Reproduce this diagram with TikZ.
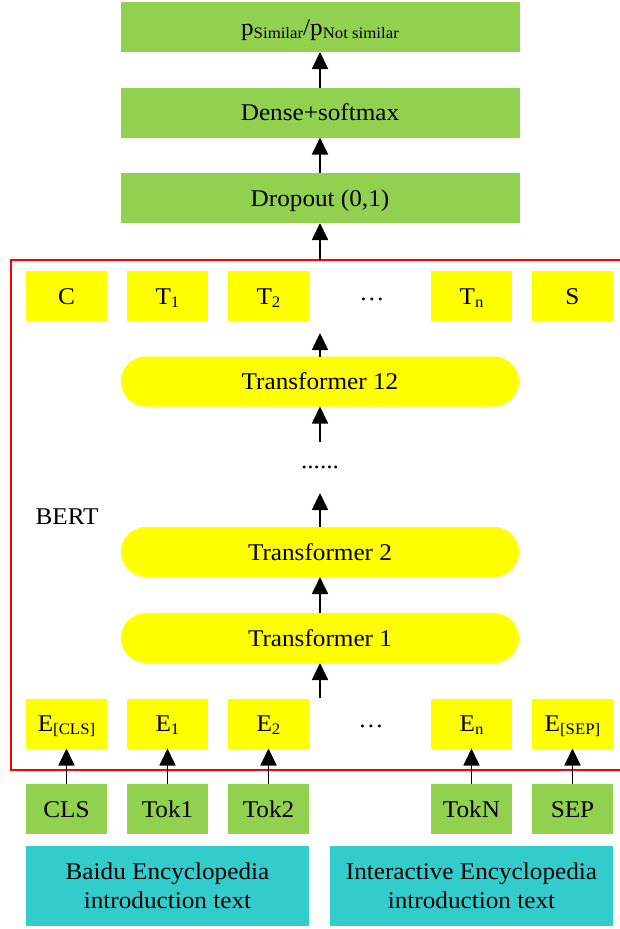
\documentclass[tikz,border=0pt]{standalone}
\usepackage{fontspec}
\setmainfont{Liberation Serif}[FakeStretch=1.05]
\usetikzlibrary{arrows.meta}
\definecolor{boxgreen}{HTML}{92D050}
\definecolor{boxyellow}{HTML}{FFFF00}
\definecolor{boxcyan}{HTML}{33CCCC}
\definecolor{framered}{HTML}{FF0000}
% lowered, smaller index text
\newcommand\lowsub[1]{\raisebox{-0.3ex}{\fontsize{16}{16}\selectfont #1}}

\begin{document}
\begin{tikzpicture}[x=1pt,y=-1pt,
  every node/.style={font=\fontsize{24}{29}\selectfont, inner sep=0pt, outer sep=0pt},
  oneline/.style={text height=17pt, text depth=1pt},
  headbox/.style={oneline, fill=boxgreen, minimum width=399pt, minimum height=50pt},
  cell/.style={oneline, fill=boxyellow, minimum width=81pt, minimum height=50pt},
  tokcell/.style={oneline, fill=boxgreen, minimum width=81pt, minimum height=50pt},
  layer/.style={oneline, fill=boxyellow, rounded corners=25pt, minimum width=398pt, minimum height=50pt},
  textbox/.style={fill=boxcyan, minimum width=283pt, minimum height=80pt, align=center},
  flow/.style={line width=1.8pt, -{Triangle[length=17pt,width=16pt]}},
]
\useasboundingbox (0,0) rectangle (619,929);

% BERT frame
\draw[framered, line width=2pt] (10.5,259.5) rectangle (640,769.5);
\node[oneline] (bert) at (67,516) {BERT};

% classification head
\node[headbox] (prob)  at (320,27)  {p\lowsub{Similar}/p\lowsub{Not similar}};
\node[headbox] (dense) at (320,112.5) {Dense+softmax};
\node[headbox] (drop)  at (320,198) {Dropout (0,1)};

% output vectors
\node[cell] (oc)  at (66.5,296)  {C};
\node[cell] (ot1) at (167.5,296) {T\lowsub{1}};
\node[cell] (ot2) at (268.5,296) {T\lowsub{2}};
\node[oneline] (odots) at (372,292) {…};
\node[cell] (otn) at (471.5,296) {T\lowsub{n}};
\node[cell] (os)  at (572.5,296) {S};

% transformer stack
\node[layer] (tr12) at (320,381.5) {Transformer 12};
\node[oneline] (trdots) at (320,460) {......};
\node[layer] (tr2)  at (320,552)   {Transformer 2};
\node[layer] (tr1)  at (320,638)   {Transformer 1};

% input embeddings
\node[cell] (ecls) at (66.5,723.5)  {E\lowsub{[CLS]}};
\node[cell] (e1)   at (167.5,723.5) {E\lowsub{1}};
\node[cell] (e2)   at (268.5,723.5) {E\lowsub{2}};
\node[oneline] (edots) at (371,719) {…};
\node[cell] (en)   at (471.5,723.5) {E\lowsub{n}};
\node[cell] (esep) at (572.5,723.5) {E\lowsub{[SEP]}};

% tokens
\node[tokcell] (kcls) at (66.5,809)  {CLS};
\node[tokcell] (k1)   at (167.5,809) {Tok1};
\node[tokcell] (k2)   at (268.5,809) {Tok2};
\node[tokcell] (kn)   at (471.5,809) {TokN};
\node[tokcell] (ksep) at (572.5,809) {SEP};

% source texts
\node[textbox] (baidu) at (167.5,886) {Baidu Encyclopedia\\introduction text};
\node[textbox] (hudong) at (471.5,886) {Interactive Encyclopedia\\introduction text};

% free arrow ends
\coordinate (frametop) at (320,259.5);
\coordinate (outtip)   at (320,333);
\coordinate (midbase)  at (320,442);
\coordinate (midtip)   at (320,493);
\coordinate (embtop)   at (320,698);

% arrows
\draw[flow] (dense.north) -- (prob.south);
\draw[flow] (drop.north) -- (dense.south);
\draw[flow] (frametop) -- (drop.south);
\draw[flow] (tr12.north) -- (outtip);
\draw[flow] (midbase) -- (tr12.south);
\draw[flow] (tr2.north) -- (midtip);
\draw[flow] (tr1.north) -- (tr2.south);
\draw[flow] (embtop) -- (tr1.south);
\draw[flow] (kcls) -- (ecls);
\draw[flow] (k1) -- (e1);
\draw[flow] (k2) -- (e2);
\draw[flow] (kn) -- (en);
\draw[flow] (ksep) -- (esep);
\end{tikzpicture}
\end{document}
